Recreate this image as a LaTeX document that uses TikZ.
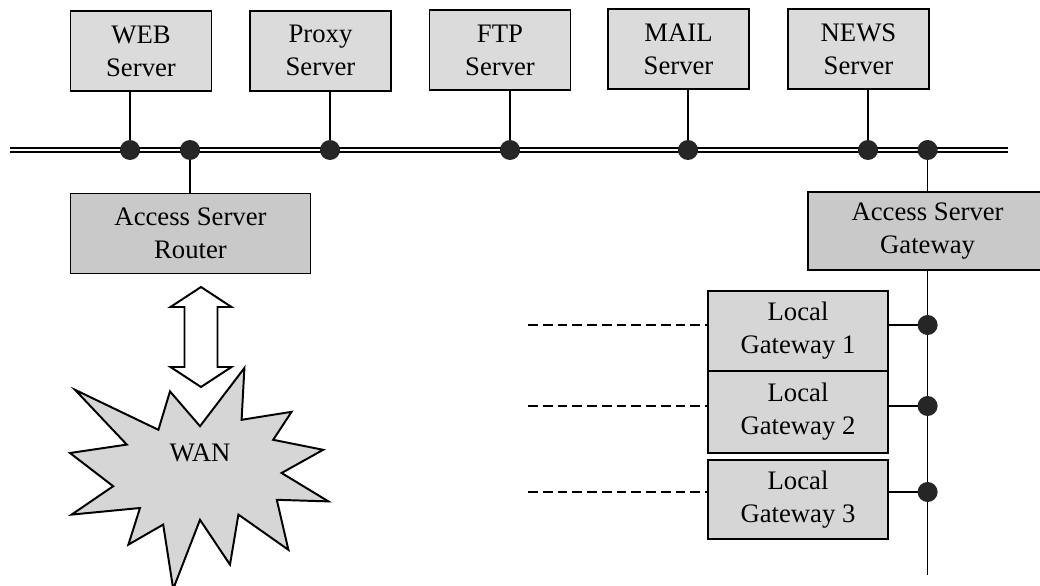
\documentclass[tikz,border=0pt]{standalone}
\usepackage{fontspec}
\setmainfont{Liberation Serif}
\usetikzlibrary{calc}

\tikzset{
	srv/.style={draw, line width=1.4pt, fill=gray!28, minimum width=3.525cm, minimum height=2cm,
		align=center, inner sep=0pt, font=\fontsize{19}{23.5}\selectfont},
	acc/.style={srv, fill=gray!42, minimum width=6cm},
	loc/.style={srv, fill=gray!32, minimum width=4.5cm},
	tap/.style={line width=0.9pt},
	dot/.style={fill=black!85},
}

\begin{document}
\begin{tikzpicture}
	\useasboundingbox (0,0) rectangle (26,14.625);
	\clip (0,0) rectangle (26,14.625);

	\node [srv] (S1) at (3.525,13.35) {WEB\\Server};
	\node [srv] (S2) at (8.0125,13.36) {Proxy\\Server};
	\node [srv] (S3) at (12.5,13.375) {FTP\\Server};
	\node [srv] (S4) at (16.9625,13.39) {MAIL\\Server};
	\node [srv] (S5) at (21.4625,13.4) {NEWS\\Server};

	\node [acc] (R) at (4.7625,8.7875) {Access Server\\Router};
	\node [acc, minimum height=1.95cm] (G) at (23.19,8.85) {Access Server\\Gateway};

	\node [loc] (L1) at (19.95,6.35) {Local\\Gateway 1};
	\node [loc, minimum height=2.05cm] (L2) at (19.95,4.325) {Local\\Gateway 2};
	\node [loc, minimum height=1.975cm] (L3) at (19.95,2.1375) {Local\\Gateway 3};

	% taps on the bus
	\coordinate (t1) at (3.25,10.875);
	\coordinate (t2) at (4.75,10.875);
	\coordinate (t3) at (8.25,10.875);
	\coordinate (t4) at (12.75,10.875);
	\coordinate (t5) at (17.2,10.875);
	\coordinate (t6) at (21.7,10.875);
	\coordinate (t7) at (23.19,10.875);
	\coordinate (bl) at (0.25,10.875);
	\coordinate (br) at (25.2,10.875);

	% taps on the gateway line
	\coordinate (g1) at (23.19,6.5);
	\coordinate (g2) at (23.19,4.475);
	\coordinate (g3) at (23.19,2.325);
	\coordinate (gb) at (23.19,0.25);

	\draw [tap] (t1) -- (t1 |- S1.south);
	\draw [tap] (t2) -- (t2 |- R.north);
	\draw [tap] (t3) -- (t3 |- S2.south);
	\draw [tap] (t4) -- (t4 |- S3.south);
	\draw [tap] (t5) -- (t5 |- S4.south);
	\draw [tap] (t6) -- (t6 |- S5.south);
	\draw [tap] (t7) -- (G.north);
	\draw [tap] (G.south) -- (gb);
	\draw [tap] (g1) -- (g1 -| L1.east);
	\draw [tap] (g2) -- (g2 -| L2.east);
	\draw [tap] (g3) -- (g3 -| L3.east);

	\draw [line width=1pt, dash pattern=on 7pt off 3.5pt] (13.2,6.5) -- (13.2,6.5 -| L1.west);
	\draw [line width=1pt, dash pattern=on 7pt off 3.5pt] (13.2,4.475) -- (13.2,4.475 -| L2.west);
	\draw [line width=1pt, dash pattern=on 7pt off 3.5pt] (13.2,2.325) -- (13.2,2.325 -| L3.west);

	\draw [double, line width=1.1pt, double distance=1.6pt] (bl) -- (br);

	\foreach \t in {t1,t2,t3,t4,t5,t6,t7,g1,g2,g3}
		\fill [dot] (\t) circle (0.25);

	% WAN cloud
	\coordinate (wan) at (5,3.3);
	\draw [line width=1.4pt, fill=gray!32, line join=miter, shift={(wan)}]
		(1.11,2.125) -- (1.04,0.83) -- (2.29,1.03) -- (1.83,0.33) -- (3.08,0.08)
		-- (2.04,-0.5) -- (3.21,-1.21) -- (1.92,-1.17) -- (2.21,-2.42) -- (0.96,-1.54)
		-- (0.75,-2.79) -- (0,-1.67) -- (-0.67,-3.4) -- (-0.92,-1.79) -- (-1.79,-2.29)
		-- (-1.5,-1.375) -- (-3.21,-1.54) -- (-2.17,-0.83) -- (-3.25,0) -- (-1.83,0.21)
		-- (-3.125,1.58) -- (-1.04,0.58) -- (-0.75,1.54) -- (0,0.67) -- cycle;
	\node [font=\fontsize{19}{23.5}\selectfont] (W) at (wan) {WAN};

	% link router <-> WAN
	\coordinate (lnk) at (5.025,6.2);
	\draw [line width=1.4pt, fill=white, shift={(lnk)}]
		(0,1.25) -- (0.7625,0.75) -- (0.4125,0.75) -- (0.4125,-0.75) -- (0.7625,-0.75)
		-- (0,-1.25) -- (-0.7625,-0.75) -- (-0.4125,-0.75) -- (-0.4125,0.75) -- (-0.7625,0.75) -- cycle;

\end{tikzpicture}
\end{document}
